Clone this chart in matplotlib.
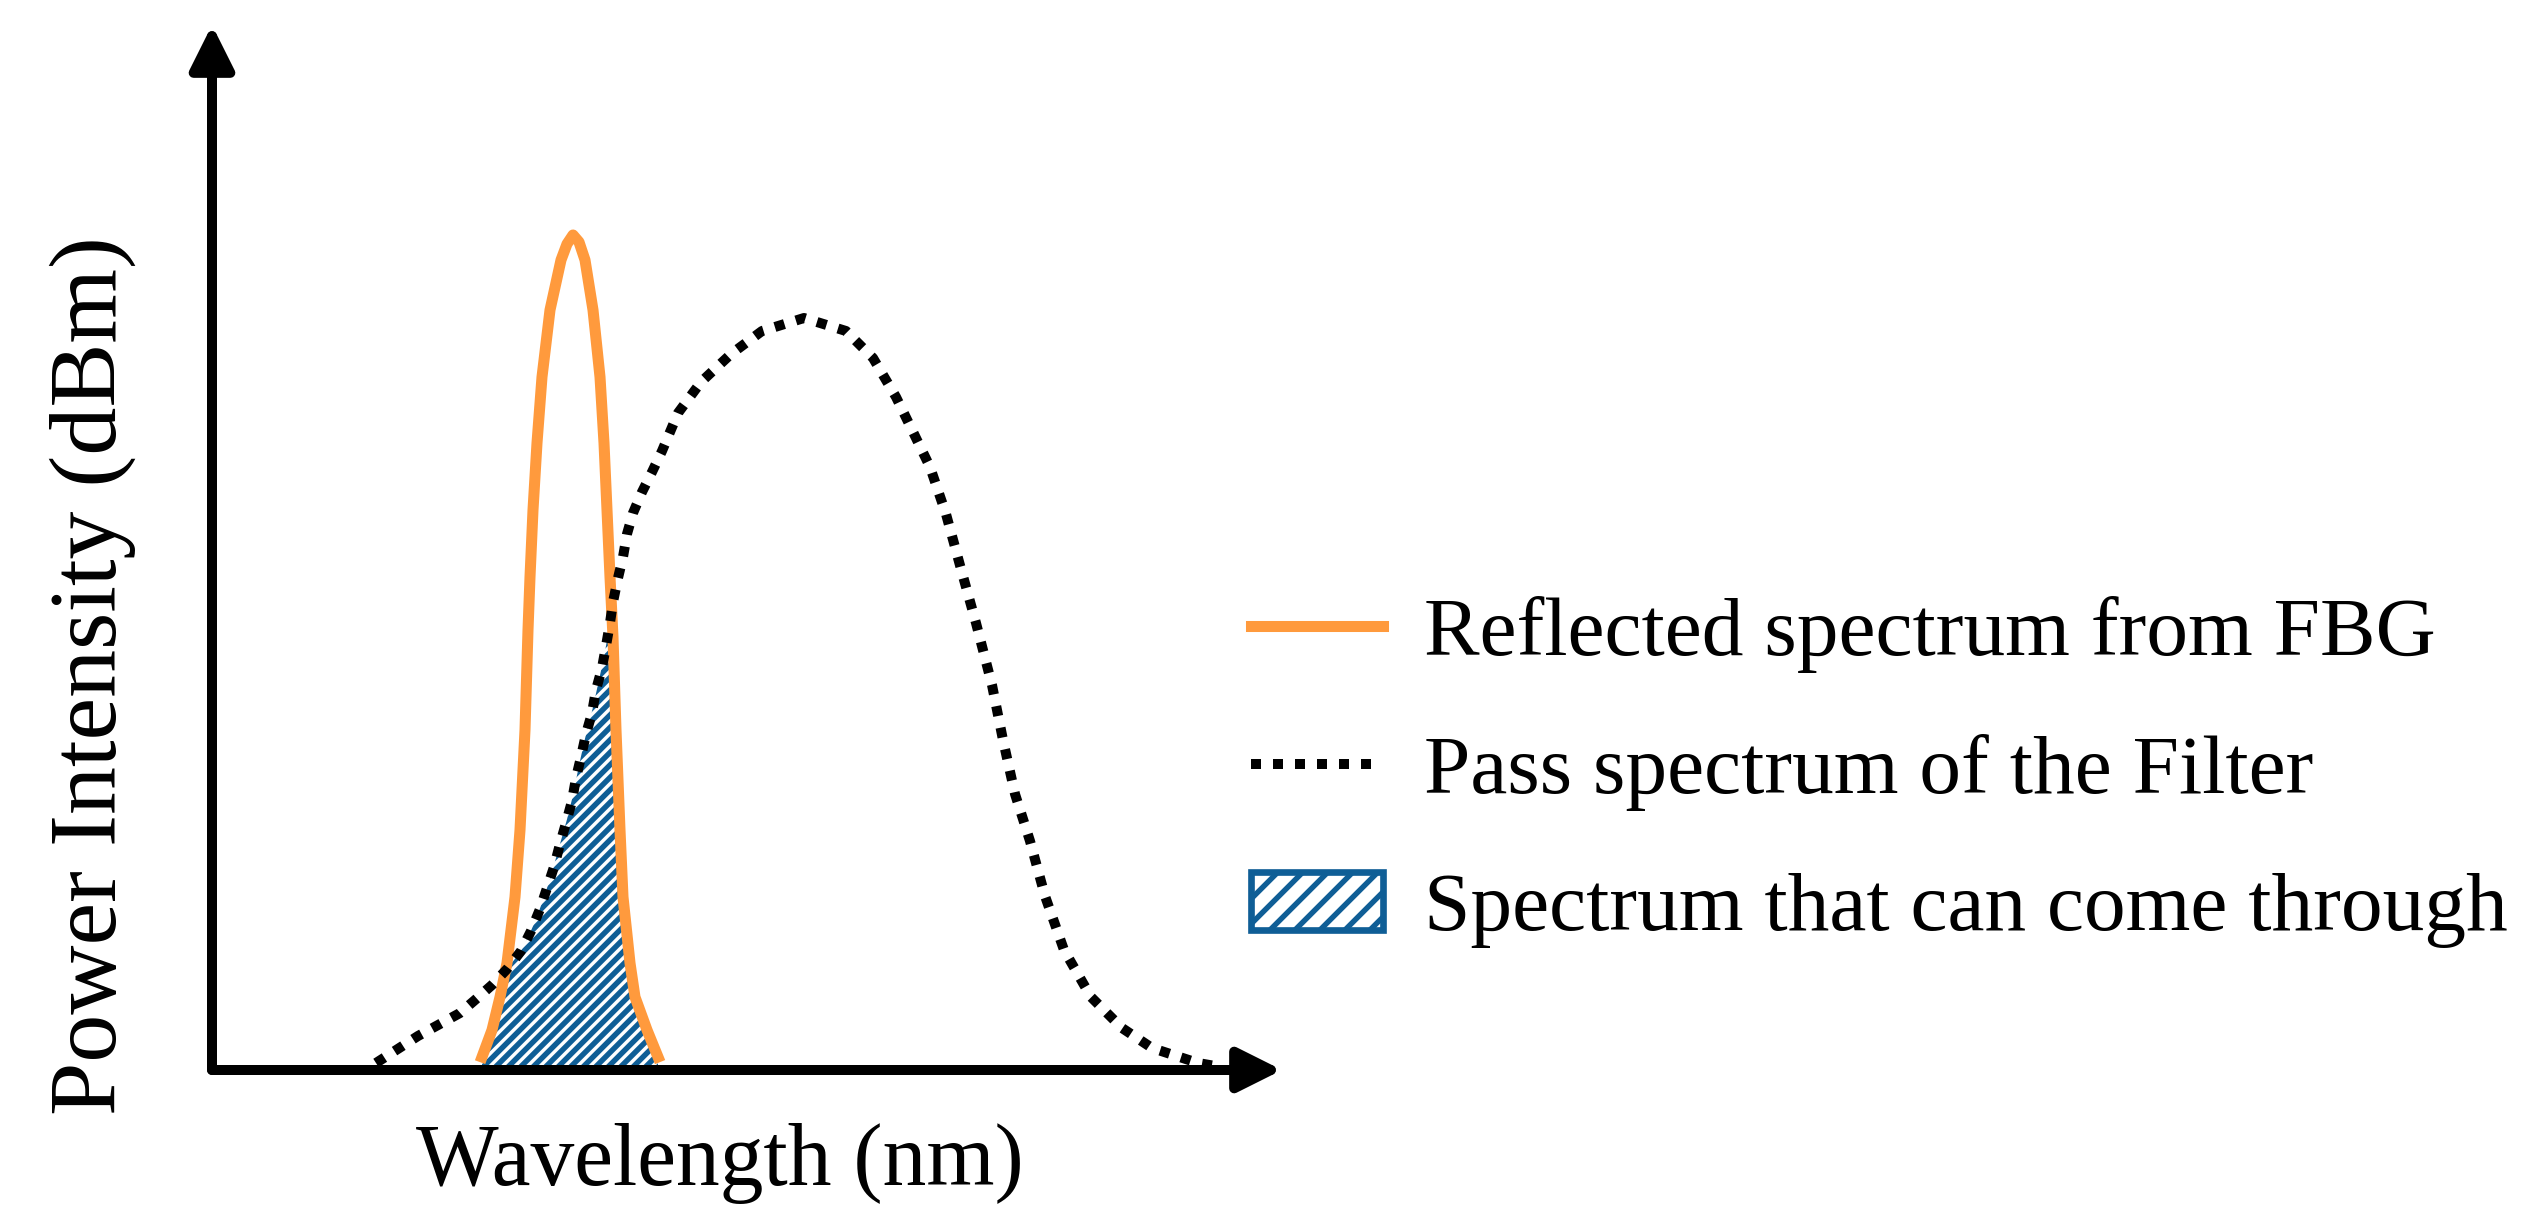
import numpy as np
import matplotlib
matplotlib.use("Agg")
import matplotlib.pyplot as plt
from matplotlib.patches import Patch

plt.rcParams['font.family'] = ['Liberation Serif', 'DejaVu Serif']
plt.rcParams['hatch.linewidth'] = 2.6

# reflected spectrum from the FBG (arbitrary units)
fbg_x = [270, 280, 288, 295, 303, 308, 313, 316, 318, 321, 325, 330, 338,
         349, 355, 361, 367, 373, 381, 388, 392, 395, 398, 401, 404, 408,
         411, 418, 423, 435, 446]
fbg_y = [13, 40, 73, 107, 173, 240, 340, 440, 493, 560, 627, 693, 760,
         810, 826, 835, 828, 810, 760, 693, 627, 560, 493, 433, 340, 240,
         173, 107, 73, 40, 13]

# pass spectrum of the filter
filt_x = [164, 206, 248, 263, 280, 296, 309, 319, 328, 335, 342, 348, 354,
          360, 364, 369, 374, 380, 384, 390, 394, 398, 401, 406, 411, 415,
          421, 430, 440, 450, 466, 489, 519, 550, 592, 634, 661, 684, 703,
          718, 734, 749, 764, 780, 791, 803, 818, 833, 852, 879, 910, 940,
          986, 1009]
filt_y = [7, 34, 57, 70, 85, 102, 119, 139, 161, 182, 203, 226, 247,
          269, 292, 313, 336, 357, 380, 402, 424, 447, 468, 492, 513, 536,
          557, 578, 598, 619, 657, 688, 716, 739, 752, 739, 712, 673, 634,
          603, 556, 501, 447, 385, 330, 276, 229, 174, 120, 73, 42, 22,
          7, 3]

labels = ["Reflected spectrum from FBG", "Pass spectrum of the Filter",
          "Spectrum that can come through"]

orange = '#FF9A3D'
blue = '#0F5E96'

W, H = 2523, 1221
fig = plt.figure(figsize=(W / 150, H / 150), dpi=150)
ax = fig.add_axes([212 / W, (H - 1070) / H, (1282 - 212) / W, (1070 - 25) / H])
ax.set_xlim(0, 1070)
ax.set_ylim(0, 1045)
ax.axis('off')

# overlap of both spectra
fx = np.array(fbg_x)
top = np.minimum(np.array(fbg_y), np.interp(fx, filt_x, filt_y))
ax.fill_between(fx, 0, top, facecolor='white', edgecolor=blue, hatch='////',
                linewidth=0, zorder=1)

l1, = ax.plot(fbg_x, fbg_y, color=orange, lw=5.3, zorder=2)
l2, = ax.plot(filt_x, filt_y, color='black', lw=4.8, linestyle=(0, (1, 1.2)),
              dash_capstyle='butt', zorder=3)

# axes with arrow heads
arrow = dict(arrowstyle='-|>,head_length=0.4,head_width=0.2', lw=4.8,
             color='black', mutation_scale=44, shrinkA=0, shrinkB=0)
ax.annotate('', xy=(1, 0), xytext=(0, 0), xycoords='axes fraction',
            arrowprops=arrow, zorder=4)
ax.annotate('', xy=(0, 1), xytext=(0, 0), xycoords='axes fraction',
            arrowprops=arrow, zorder=4)

fig.text(93 / W, (H - 676) / H, "Power Intensity (dBm)", rotation=90,
         ha='center', va='center', fontsize=46)
fig.text(720 / W, (H - 1185) / H, "Wavelength (nm)", ha='center',
         va='baseline', fontsize=42)

p3 = Patch(facecolor='white', edgecolor=blue, hatch='//', linewidth=3.2)
fig.legend([l1, l2, p3], labels, loc='center left',
           bbox_to_anchor=(1251 / W, (H - 772) / H), frameon=False,
           fontsize=40, handlelength=1.58, handletextpad=0.49,
           labelspacing=0.73, borderpad=0, borderaxespad=0, handleheight=0.7)

fig.savefig('out.png', dpi=150)
